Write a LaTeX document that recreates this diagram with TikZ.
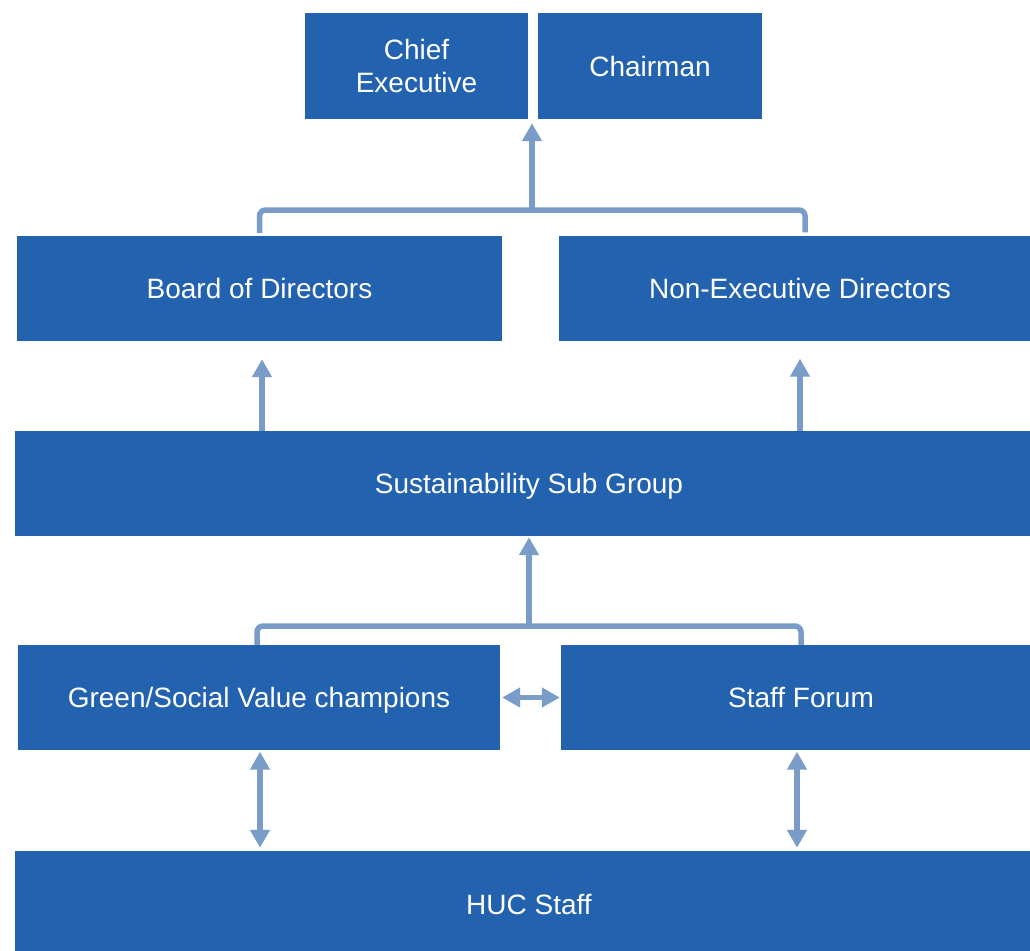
\documentclass[tikz,border=0pt]{standalone}
\usepackage{fontspec}
\setmainfont{Liberation Sans}
\usetikzlibrary{arrows.meta,positioning,calc}
\definecolor{hucblue}{RGB}{34,98,174}
\definecolor{hucline}{RGB}{122,156,200}
\tikzset{
  unit/.style={
    fill=hucblue, text=white, draw=none, inner sep=0pt,
    align=center, minimum height=105pt,
    font=\fontsize{28}{33}\selectfont
  },
  line/.style={unit, text height=21pt, text depth=1pt},
  bar/.style={draw=hucline, line width=5.5pt, rounded corners=6pt},
  arr/.style={draw=hucline, line width=5.5pt, -{Triangle[length=18pt,width=19pt]}},
  darr/.style={draw=hucline, line width=5.5pt,
    {Triangle[length=18pt,width=19pt]}-{Triangle[length=18pt,width=19pt]}}
}
\begin{document}
\begin{tikzpicture}[x=1pt, y=-1pt]
  \clip (0,0) rectangle (1030,950);
  \fill[white] (0,0) rectangle (1030,950);
  % top row
  \node[unit, minimum width=223pt, minimum height=106pt] (ce) at (416.5,66) {Chief\\Executive};
  \node[line, minimum width=224pt, minimum height=106pt] (chair) at (650,66) {Chairman};
  % boards
  \node[line, minimum width=485pt] (board) at (259.5,288.5) {Board of Directors};
  \node[line, minimum width=482pt] (ned) at (800,288) {Non-Executive Directors};
  \node[line, minimum width=1028pt] (ssg) at (529,483.5) {Sustainability Sub Group};
  % staff groups
  \node[line, minimum width=482pt] (green) at (259,697.5) {Green/Social Value champions};
  \node[line, minimum width=480pt] (forum) at (801,697.5) {Staff Forum};
  \node[line, minimum width=1028pt, minimum height=106pt] (huc) at (529,904) {HUC Staff};

  % boards up to the top
  \coordinate (topbar) at (532,210);
  \draw[bar] ([yshift=3pt]board.north) |- (topbar) -| ([xshift=5pt,yshift=3pt]ned.north);
  \draw[arr, shorten >=4pt] (topbar) -- (topbar |- ce.south);

  % sub group up to the boards
  \draw[arr, shorten >=18pt] ([xshift=2.5pt]board.south |- ssg.north) -- ([xshift=2.5pt]board.south);
  \draw[arr, shorten >=18pt] (ned.south |- ssg.north) -- (ned.south);

  % staff groups up to the sub group
  \coordinate (lowbar) at (529,626);
  \draw[bar] ([xshift=-2pt]green.north) |- (lowbar) -| (forum.north);
  \draw[arr, shorten >=1pt] (lowbar) -- (lowbar |- ssg.south);
  \draw[darr, shorten <=2pt, shorten >=1pt] (green.east) -- (forum.west);

  % staff links
  \draw[darr, shorten <=1.5pt, shorten >=3pt] ([xshift=1pt]green.south) -- ([xshift=1pt]green.south |- huc.north);
  \draw[darr, shorten <=1.5pt, shorten >=3pt] ([xshift=-4pt]forum.south) -- ([xshift=-4pt]forum.south |- huc.north);
\end{tikzpicture}
\end{document}
